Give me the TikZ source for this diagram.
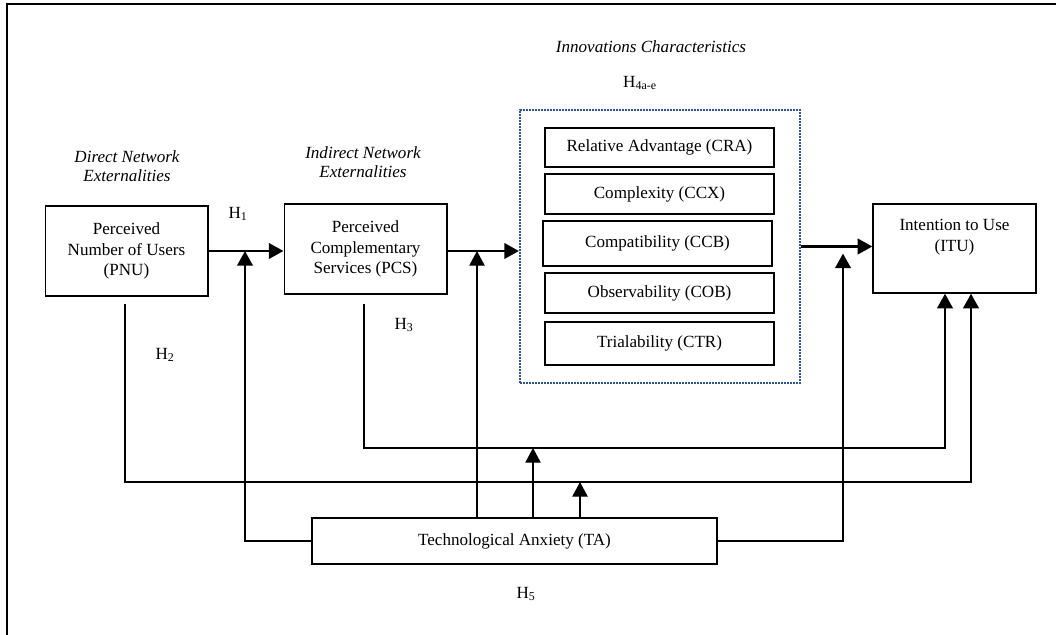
\documentclass[tikz,border=0pt]{standalone}
\usepackage{fontspec}
\setmainfont{Liberation Serif}
\usetikzlibrary{calc,positioning,arrows.meta}
\definecolor{innoblue}{RGB}{47,84,150}

\begin{document}
\begin{tikzpicture}[x=.75pt,y=-.75pt,
    font=\fontsize{12.8}{15.5}\selectfont,
    box/.style={draw,line width=1pt,inner sep=0pt,align=center},
    bus/.style={line width=2.2pt,-{Triangle[length=11pt,width=11.5pt]}},
    tap/.style={line width=1pt,-{Triangle[length=11pt,width=11.5pt]}},
    group/.style={font=\fontsize{12.8}{14.5}\selectfont\itshape,align=center}]
    \useasboundingbox (0,0) rectangle (1056,635);
    \draw[line width=1.8pt] (7,635) -- (7,4) -- (1056,4);

    % constructs
    \node[box,minimum width=122pt,minimum height=67.5pt] (PNU) at (126.5,251) {Perceived\\Number of Users\\(PNU)};
    \node[box,minimum width=122pt,minimum height=67.5pt] (PCS) at (365.5,249) {Perceived\\Complementary\\Services (PCS)};
    \node[draw=innoblue,line width=1.6pt,dash pattern=on 1.5pt off .75pt,minimum width=210pt,minimum height=204.75pt] (inno) at (660,246.5) {};
    \node[box,minimum width=171.75pt,minimum height=29.25pt] (CRA) at (659.5,147.5) {Relative Advantage (CRA)};
    \node[box,minimum width=171.75pt,minimum height=30pt] (CCX) at (659.5,194) {Complexity (CCX)};
    \node[box,minimum width=171.75pt,minimum height=33.75pt] (CCB) at (657.5,243.5) {Compatibility (CCB)};
    \node[box,minimum width=171.75pt,minimum height=30pt] (COB) at (659.5,293) {Observability (COB)};
    \node[box,minimum width=171.75pt,minimum height=32.25pt] (CTR) at (659.5,343.5) {Trialability (CTR)};
    \node[box,minimum width=122.25pt,minimum height=66.75pt] (ITU) at (954.5,248.5) {Intention to Use\\(ITU)\\[4pt]\mbox{}};
    \node[box,minimum width=303.75pt,minimum height=34.5pt] (TA) at (514.5,541) {Technological Anxiety (TA)};

    % group titles and hypotheses
    \node[group] (direct) at (127,166) {Direct Network\\Externalities};
    \node[group] (indirect) at (363,162) {Indirect Network\\Externalities};
    \node[group] (innolab) at (651,47) {Innovations Characteristics};
    \node (h1) at (238,214) {H\textsubscript{1}};
    \node (h2) at (165,355) {H\textsubscript{2}};
    \node (h3) at (404,325) {H\textsubscript{3}};
    \node (h4) at (640,83) {H\textsubscript{4a-e}};
    \node (h5) at (526,594) {H\textsubscript{5}};

    \coordinate (busA) at (0,448);
    \coordinate (busB) at (0,482);
    \coordinate (itu1) at (945,0);
    \coordinate (itu2) at (971,0);
    \coordinate (taL) at (245,0);
    \coordinate (taR) at (843,0);
    \coordinate (tapA) at (477,0);
    \coordinate (tapB) at (533,0);
    \coordinate (tapC) at (580,0);

    % paths
    \draw[bus] (PNU.east) -- (PNU.east -| PCS.west);
    \draw[bus] (PCS.east |- PNU.east) -- (PNU.east -| inno.west);
    \draw[bus] (inno.east) -- (inno.east -| ITU.west);
    \draw[bus] ($(PNU.south)+(-1.5,7)$) |- (busB -| itu2) -- (itu2 |- ITU.south);
    \draw[bus] ($(PCS.south)+(-1.5,9)$) |- (busA -| itu1) -- (itu1 |- ITU.south);
    \draw[bus] (TA.west) -| (taL |- PNU.east);
    \draw[bus] (TA.east) -| ($(taR |- inno.east)+(0,7)$);
    \draw[tap] (TA.north -| tapA) -- (tapA |- PNU.east);
    \draw[tap] (TA.north -| tapB) -- (tapB |- busA);
    \draw[tap] (TA.north -| tapC) -- (tapC |- busB);
\end{tikzpicture}
\end{document}
